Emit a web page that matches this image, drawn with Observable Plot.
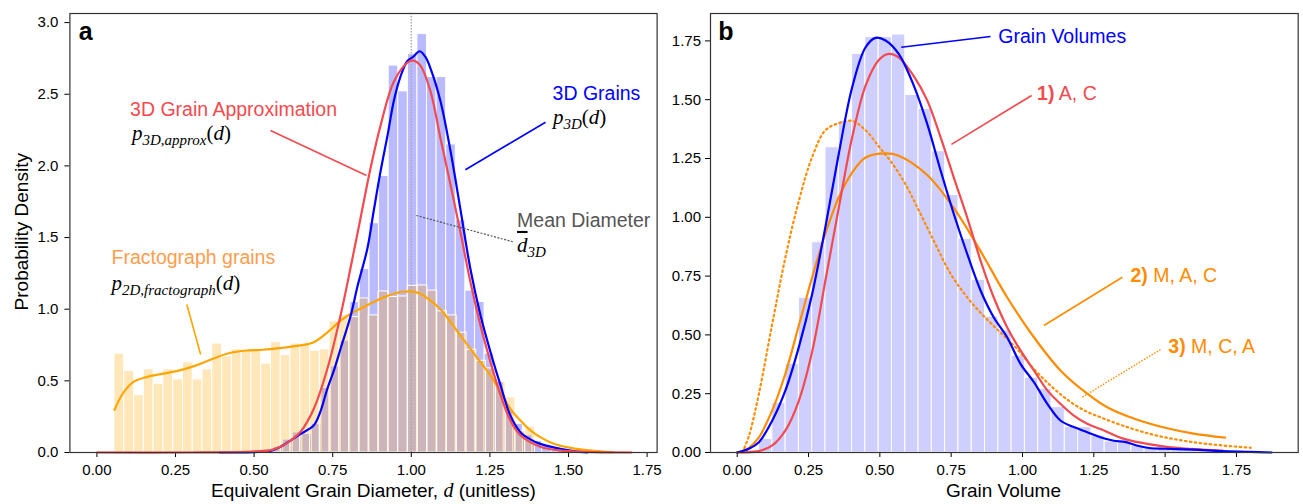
<!DOCTYPE html>
<html><head><meta charset="utf-8">
<script src="https://cdn.jsdelivr.net/npm/d3@7"></script>
<script src="https://cdn.jsdelivr.net/npm/@observablehq/plot@0.6"></script>
<style>
body{margin:0;background:#fff;}
#wrap{position:relative;width:1303px;height:504px;overflow:hidden;background:#fff;}
#wrap svg{position:absolute;top:0;overflow:visible;}
</style></head><body><div id="wrap"></div>
<script>
// ---------- DATA ----------
const xTicks = [0, 0.25, 0.5, 0.75, 1, 1.25, 1.5, 1.75];
const yTicksA = [0, 0.5, 1, 1.5, 2, 2.5, 3];
const yTicksB = [0, 0.25, 0.5, 0.75, 1, 1.25, 1.5, 1.75];
const meanDiameter = 1.0;

// Panel a: fractograph (2D) diameter histogram
const fractoBinStart = 0.056, fractoBinWidth = 0.0311;
const fractoHeights = [0.69,0.57,0.40,0.58,0.48,0.58,0.51,0.63,0.51,0.58,0.76,0.67,0.72,0.71,0.72,0.62,0.77,0.68,0.76,0.75,0.71,0.72,0.915,0.96,0.945,1.075,0.957,1.124,1.085,1.089,1.163,1.166,1.13,0.985,0.957,0.836,0.717,0.64,0.587,0.491,0.386,0.15,0.18];
// Panel a: 3D grain diameter histogram
const grain3DBinStart = 0.379, grain3DBinWidth = 0.0305;
const grain3DHeights = [0.003,0.003,0.005,0.008,0.012,0.02,0.04,0.09,0.14,0.13,0.20,0.45,0.60,0.78,1.05,1.28,1.60,1.93,2.70,2.52,2.78,2.92,2.62,2.62,2.15,1.62,1.13,1.05,0.69,0.50,0.30,0.20,0.12,0.08,0.05,0.03,0.015,0.008];

// Panel a curves
const p3DX = [0.39,0.50,0.55,0.584,0.62,0.648,0.69,0.71,0.733,0.755,0.775,0.806,0.83,0.86,0.88,0.902,0.925,0.944,0.965,0.987,1.005,1.027,1.045,1.061,1.093,1.125,1.156,1.188,1.22,1.252,1.284,1.315,1.347,1.38,1.41,1.474,1.52,1.56];
const p3DY = [0,0.003,0.01,0.04,0.09,0.13,0.19,0.28,0.445,0.58,0.724,0.945,1.17,1.42,1.68,1.96,2.22,2.45,2.62,2.73,2.76,2.80,2.76,2.68,2.45,2.10,1.70,1.28,0.957,0.70,0.468,0.258,0.142,0.09,0.06,0.025,0.008,0];
const pApproxX = [0,0.3,0.45,0.52,0.55,0.584,0.62,0.648,0.69,0.733,0.775,0.806,0.838,0.87,0.902,0.944,0.987,1.003,1.029,1.061,1.093,1.125,1.156,1.188,1.22,1.252,1.284,1.315,1.347,1.41,1.47,1.55,1.70];
const pApproxY = [0,0,0.003,0.01,0.015,0.04,0.09,0.145,0.305,0.584,0.957,1.28,1.63,1.98,2.28,2.586,2.72,2.737,2.70,2.52,2.19,1.865,1.54,1.19,0.887,0.63,0.40,0.223,0.12,0.04,0.015,0.004,0];
const pFractoX = [0.056,0.082,0.114,0.157,0.21,0.263,0.316,0.369,0.422,0.475,0.528,0.58,0.647,0.69,0.734,0.775,0.817,0.86,0.902,0.944,0.997,1.029,1.061,1.093,1.125,1.156,1.188,1.22,1.252,1.284,1.315,1.347,1.379,1.41,1.453,1.495,1.55,1.60,1.64];
const pFractoY = [0.298,0.41,0.49,0.526,0.55,0.573,0.608,0.654,0.694,0.712,0.717,0.728,0.747,0.77,0.84,0.92,0.98,1.027,1.073,1.108,1.124,1.108,1.06,1.0,0.91,0.817,0.724,0.63,0.538,0.42,0.305,0.223,0.154,0.107,0.061,0.037,0.018,0.008,0.002];

// Panel b: grain volume histogram
const volBinStart = 0.0299, volBinWidth = 0.0466;
const volHeights = [0.01,0.058,0.21,0.377,0.658,0.894,1.298,1.41,1.695,1.766,1.766,1.777,1.52,1.461,1.281,1.095,0.908,0.734,0.578,0.519,0.412,0.318,0.271,0.193,0.108,0.108,0.072,0.047,0.043,0.028,0.02,0.018,0.015,0.01,0.008,0.006,0.004,0.003,0.002,0.002];
// Panel b curves
const volKdeX = [0,0.041,0.076,0.123,0.169,0.216,0.263,0.309,0.356,0.403,0.45,0.485,0.52,0.566,0.619,0.666,0.713,0.759,0.806,0.853,0.899,0.946,0.993,1.04,1.087,1.133,1.18,1.227,1.273,1.32,1.36,1.40,1.45,1.50,1.60,1.70,1.80,1.873];
const volKdeY = [0,0.016,0.044,0.136,0.264,0.448,0.675,0.958,1.27,1.553,1.723,1.763,1.752,1.695,1.56,1.397,1.199,1.015,0.845,0.689,0.575,0.49,0.377,0.299,0.207,0.136,0.108,0.086,0.065,0.05,0.045,0.03,0.018,0.016,0.012,0.006,0.003,0];
const fitACX = [0,0.076,0.123,0.169,0.216,0.263,0.309,0.356,0.403,0.45,0.497,0.532,0.566,0.619,0.666,0.713,0.759,0.806,0.853,0.899,0.946,0.993,1.04,1.087,1.133,1.18,1.227,1.273,1.35,1.4,1.5,1.6,1.7];
const fitACY = [0,0.006,0.03,0.094,0.22,0.43,0.73,1.04,1.34,1.56,1.67,1.695,1.68,1.60,1.497,1.34,1.17,1.0,0.816,0.66,0.533,0.434,0.349,0.264,0.207,0.157,0.122,0.1,0.06,0.045,0.025,0.014,0.008];
const fitMACX = [0,0.041,0.076,0.123,0.169,0.216,0.263,0.309,0.356,0.403,0.45,0.52,0.566,0.666,0.759,0.853,0.946,1.04,1.133,1.227,1.30,1.40,1.50,1.60,1.71];
const fitMACY = [0,0.02,0.064,0.18,0.336,0.54,0.746,0.93,1.085,1.19,1.254,1.272,1.262,1.18,1.04,0.856,0.66,0.49,0.349,0.25,0.19,0.14,0.105,0.08,0.063];
const fitMCAX = [0.018,0.041,0.076,0.123,0.169,0.216,0.263,0.309,0.356,0.403,0.45,0.497,0.543,0.59,0.631,0.689,0.748,0.806,0.864,0.923,0.981,1.04,1.098,1.157,1.215,1.273,1.35,1.45,1.55,1.65,1.80];
const fitMCAY = [0,0.07,0.25,0.548,0.83,1.07,1.257,1.37,1.40,1.41,1.37,1.30,1.23,1.14,1.043,0.90,0.76,0.66,0.58,0.51,0.44,0.355,0.285,0.225,0.18,0.15,0.115,0.078,0.053,0.036,0.02];

// ---------- HELPERS ----------
const red = "#f24a4f", blue = "#0000ff", orangeA = "#ffa500", orangeB = "#ff8c00", orangeText = "#ff9d4d", gray = "#555555";
const sans = "'Liberation Sans', Arial, Helvetica, sans-serif";
const serif = "'Liberation Serif', 'Times New Roman', serif";
const bins = (start, width, heights) => heights.map((h, i) => ({x1: start + i * width, x2: start + (i + 1) * width, y: h}));
const pts = (xs, ys) => xs.map((x, i) => ({x, y: ys[i]}));

function rich(items) {
  return function(...args) {
    const scales = args.find(a => a && typeof a.x === "function" && typeof a.y === "function");
    const g = d3.create("svg:g");
    for (const it of items) {
      const px = scales.x(it.x), py = scales.y(it.y);
      const t = g.append("text")
        .attr("font-family", it.font || sans)
        .attr("font-size", it.size)
        .attr("fill", it.fill || "#000")
        .attr("text-anchor", it.anchor || "start");
      if (it.rotate) t.attr("transform", `translate(${px},${py}) rotate(${it.rotate})`).attr("dy", it.dy || 0);
      else t.attr("x", px).attr("y", py);
      if (it.weight) t.attr("font-weight", it.weight);
      for (const p of it.parts) {
        const s = t.append("tspan").text(p.t);
        if (p.italic) s.attr("font-style", "italic");
        if (p.bold) s.attr("font-weight", "bold");
        if (p.serif) s.attr("font-family", serif);
        if (p.size) s.attr("font-size", p.size);
        if (p.dy) s.attr("dy", p.dy);
        if (p.over) s.attr("text-decoration", "overline");
      }
    }
    return g.node();
  };
}
const M = (t, o = {}) => ({t, serif: true, ...o});
const mathFn = (sub) => [M("p", {italic: true, size: 21}), M(sub, {italic: true, size: 15, dy: 5}), M("(", {size: 21, dy: -5}), M("d", {italic: true, size: 21}), M(")", {size: 21})];

const wrap = document.getElementById("wrap");
const baseStyle = {fontFamily: sans, fontSize: "15px", color: "#000", background: "transparent", overflow: "visible"};

// ---------- PANEL A ----------
const plotA = Plot.plot({
  width: 664, height: 504,
  marginLeft: 69.4, marginRight: 7.4, marginTop: 13, marginBottom: 52,
  style: baseStyle,
  x: {domain: [-0.0859, 1.7818], ticks: xTicks, tickFormat: d3.format(".2f"), tickSize: 5, tickPadding: 7, label: null},
  y: {domain: [0, 3.0635], ticks: yTicksA, tickFormat: d3.format(".1f"), tickSize: 5, tickPadding: 6.5, label: null},
  marks: [
    Plot.rectY(bins(grain3DBinStart, grain3DBinWidth, grain3DHeights), {x1: "x1", x2: "x2", y: "y", fill: blue, fillOpacity: 0.27, stroke: "white", strokeWidth: 1}),
    Plot.rectY(bins(fractoBinStart, fractoBinWidth, fractoHeights), {x1: "x1", x2: "x2", y: "y", fill: orangeA, fillOpacity: 0.27, stroke: "white", strokeWidth: 1}),
    Plot.ruleX([meanDiameter], {stroke: "#aaaaaa", strokeWidth: 1.5, strokeDasharray: "1.5,1.5"}),
    Plot.line(pts(pFractoX, pFractoY), {x: "x", y: "y", stroke: orangeA, strokeWidth: 2.2, curve: "catmull-rom"}),
    Plot.line(pts(p3DX, p3DY), {x: "x", y: "y", stroke: blue, strokeWidth: 2.2, curve: "catmull-rom"}),
    Plot.line(pts(pApproxX, pApproxY), {x: "x", y: "y", stroke: red, strokeWidth: 2.2, curve: "catmull-rom"}),
    Plot.link([{x1: 0.552, y1: 2.247, x2: 0.8575, y2: 1.933}], {x1: "x1", y1: "y1", x2: "x2", y2: "y2", stroke: red, strokeWidth: 1.6}),
    Plot.link([{x1: 1.427, y1: 2.305, x2: 1.172, y2: 1.973}], {x1: "x1", y1: "y1", x2: "x2", y2: "y2", stroke: blue, strokeWidth: 1.6}),
    Plot.link([{x1: 0.286, y1: 1.033, x2: 0.33, y2: 0.684}], {x1: "x1", y1: "y1", x2: "x2", y2: "y2", stroke: orangeA, strokeWidth: 1.6}),
    Plot.link([{x1: 1.016, y1: 1.654, x2: 1.327, y2: 1.468}], {x1: "x1", y1: "y1", x2: "x2", y2: "y2", stroke: gray, strokeWidth: 1.2, strokeDasharray: "2,1.5"}),
    Plot.frame({stroke: "#333", strokeWidth: 1.2}),
    rich([
      {x: -0.056, y: 2.875, size: 25, weight: "bold", parts: [{t: "a"}]},
      {x: 0.107, y: 2.345, size: 19.5, fill: red, parts: [{t: "3D Grain Approximation"}]},
      {x: 0.113, y: 2.177, size: 21, parts: mathFn("3D,approx")},
      {x: 1.451, y: 2.456, size: 19.5, fill: blue, parts: [{t: "3D Grains"}]},
      {x: 1.452, y: 2.289, size: 21, parts: mathFn("3D")},
      {x: 1.338, y: 1.572, size: 19.5, fill: gray, parts: [{t: "Mean Diameter"}]},
      {x: 1.338, y: 1.396, size: 21, parts: [M("d", {italic: true, size: 21, over: true}), M("3D", {italic: true, size: 15, dy: 5})]},
      {x: 0.048, y: 1.312, size: 19.5, fill: orangeText, parts: [{t: "Fractograph grains"}]},
      {x: 0.048, y: 1.130, size: 21, parts: mathFn("2D,fractograph")},
      {x: 0.881, y: -0.314, size: 19, anchor: "middle", parts: [{t: "Equivalent Grain Diameter, "}, M("d", {italic: true, size: 20}), {t: " (unitless)"}]},
      {x: -0.24, y: 1.537, size: 19, anchor: "middle", rotate: -90, dy: "0.35em", parts: [{t: "Probability Density"}]}
    ])
  ]
});
plotA.style.left = "0px";
wrap.appendChild(plotA);

// ---------- PANEL B ----------
const plotB = Plot.plot({
  width: 639, height: 504,
  marginLeft: 46, marginRight: 5.3, marginTop: 13, marginBottom: 52,
  style: baseStyle,
  x: {domain: [-0.0936, 1.9664], ticks: xTicks, tickFormat: d3.format(".2f"), tickSize: 5, tickPadding: 7, label: null},
  y: {domain: [0, 1.8665], ticks: yTicksB, tickFormat: d3.format(".2f"), tickSize: 5, tickPadding: 4.5, label: null},
  marks: [
    Plot.rectY(bins(volBinStart, volBinWidth, volHeights), {x1: "x1", x2: "x2", y: "y", fill: blue, fillOpacity: 0.19, stroke: "white", strokeWidth: 1}),
    Plot.line(pts(fitMCAX, fitMCAY), {x: "x", y: "y", stroke: orangeB, strokeWidth: 2.2, strokeDasharray: "1.6,3.4", curve: "catmull-rom"}),
    Plot.line(pts(fitMACX, fitMACY), {x: "x", y: "y", stroke: orangeB, strokeWidth: 2.2, curve: "catmull-rom"}),
    Plot.line(pts(fitACX, fitACY), {x: "x", y: "y", stroke: red, strokeWidth: 2.2, curve: "catmull-rom"}),
    Plot.line(pts(volKdeX, volKdeY), {x: "x", y: "y", stroke: blue, strokeWidth: 2.2, curve: "catmull-rom"}),
    Plot.link([{x1: 0.888, y1: 1.769, x2: 0.575, y2: 1.723}], {x1: "x1", y1: "y1", x2: "x2", y2: "y2", stroke: blue, strokeWidth: 1.6}),
    Plot.link([{x1: 1.032, y1: 1.518, x2: 0.751, y2: 1.31}], {x1: "x1", y1: "y1", x2: "x2", y2: "y2", stroke: red, strokeWidth: 1.6}),
    Plot.link([{x1: 1.35, y1: 0.745, x2: 1.075, y2: 0.54}], {x1: "x1", y1: "y1", x2: "x2", y2: "y2", stroke: orangeB, strokeWidth: 1.6}),
    Plot.link([{x1: 1.484, y1: 0.438, x2: 1.209, y2: 0.235}], {x1: "x1", y1: "y1", x2: "x2", y2: "y2", stroke: orangeB, strokeWidth: 1.4, strokeDasharray: "1.5,1.5"}),
    Plot.frame({stroke: "#333", strokeWidth: 1.2}),
    rich([
      {x: -0.065, y: 1.752, size: 25, weight: "bold", parts: [{t: "b"}]},
      {x: 0.917, y: 1.739, size: 19.5, fill: blue, parts: [{t: "Grain Volumes"}]},
      {x: 1.053, y: 1.497, size: 19.5, fill: red, parts: [{t: "1)", bold: true}, {t: " A, C"}]},
      {x: 1.380, y: 0.723, size: 19.5, fill: orangeB, parts: [{t: "2)", bold: true}, {t: " M, A, C"}]},
      {x: 1.513, y: 0.421, size: 19.5, fill: orangeB, parts: [{t: "3)", bold: true}, {t: " M, C, A"}]},
      {x: 0.935, y: -0.191, size: 19, anchor: "middle", parts: [{t: "Grain Volume"}]}
    ])
  ]
});
plotB.style.left = "664px";
wrap.appendChild(plotB);
</script>
</body></html>
